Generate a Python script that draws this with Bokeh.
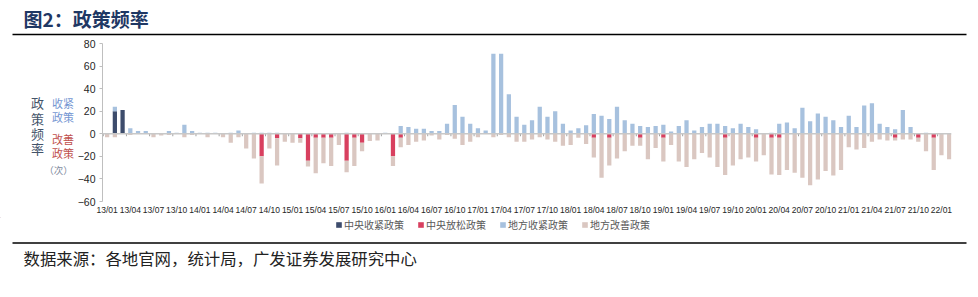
from bokeh.plotting import figure
from bokeh.models import (Label, Span, FixedTicker, Legend, LegendItem, Range1d)
from bokeh.layouts import column, row
from bokeh.embed import file_html
from bokeh.resources import INLINE

# ---------------- data ----------------
tick_labels = ["13/01", "13/04", "13/07", "13/10", "14/01", "14/04", "14/07", "14/10",
               "15/01", "15/04", "15/07", "15/10", "16/01", "16/04", "16/07", "16/10",
               "17/01", "17/04", "17/07", "17/10", "18/01", "18/04", "18/07", "18/10",
               "19/01", "19/04", "19/07", "19/10", "20/01", "20/04", "20/07", "20/10",
               "21/01", "21/04", "21/07", "21/10", "22/01"]

central_tight = [0, 20, 21, 0, 0, 0, 0, 0, 0, 0] + [0] * 100

central_ease = ([0] * 10 + [0] * 10 +
                [-20, 0, -4, 0, 0, -4, -24, -3.5, -3.5, -3.5] +
                [0, -24, -3.5, -8, 0, 0, 0, -20, -3.5, 0] +
                [0] * 10 + [0] * 10 +
                [0, 0, 0, -3.5, 0, -3.5, 0, 0, 0, -3.5] +
                [0, 0, -3.5, 0, 0, 0, 0, 0, 0, 0] +
                [-3.5, 0, 0, 0, -3.5, 0, -3.5, -3.5, 0, 0] +
                [0] * 10 +
                [0, 0, -3.5, 0, 0, -3.5, 0, -3.5, 0, 0])

local_tight = [0, 4, 0, 5, 2.5, 2.5, 0, 0, 2.5, 1,
               8, 2.5, 1, 1, 1, 0, 1, 3, 0, 1,
               1, 1, 1, 0, 0, 0, 0, 0, 0, 0,
               0, 1, 0, 0, 0, 0, 1, 0, 7, 6,
               4.5, 4.5, 2.5, 2.5, 9, 25.5, 15, 9, 5, 3,
               71, 71, 35, 15, 8, 12, 24, 15, 20, 9,
               3, 5, 7.5, 17.5, 16, 13, 24, 12, 9, 7,
               6, 7, 8, 2, 7, 12, 3, 6, 9, 9,
               7, 5, 9, 6, 4, 0, 1, 9, 10, 5,
               23, 11, 18, 15, 12, 6, 16, 6, 25, 27,
               9, 6, 4, 21, 6, 0, 1, 0, 0, 0]

local_ease = [-3, -3, 0, -1, 0, 0, -3, -1.5, -1, 0,
              -3, -1, 0, -3, 0, -3, -8, -3, -13, -22,
              -24, -13, -24, -7, -8, -4, -5, -31.5, -22.5, -25,
              -10, -10, -25, -7.5, -6.5, -6, 0, -8.5, -8.5, -10,
              -7, -6, -1.5, -5, -1, -4.5, -10, -7, -3, 0,
              -3, -1, -3, -7, -7, -5, -3, -5, -7, -10.5,
              -10, -3.5, -9, -17.5, -39, -24.5, -22, -15.5, -10.5, -7,
              -22.5, -12.5, -21, -10, -24.5, -29.5, -22.5, -17, -21, -29.5,
              -33, -28, -22.5, -21, -21, -19, -32.5, -33, -32, -34.5,
              -39, -45.5, -40.5, -33, -37, -32, -12, -14, -12.5, -7,
              -5, -6, -2.5, -5, -5, -3.5, -15.5, -28.5, -19, -22.5]

series_names = ["中央收紧政策", "中央放松政策", "地方收紧政策", "地方改善政策"]
y_ticks = [-60, -40, -20, 0, 20, 40, 60, 80]

# ---------------- styles ----------------
C_DARK = "#3D4C6C"
C_RED = "#D8405F"
C_BLUE = "#A7C1DE"
C_BEIGE = "#DAC7C1"
CJK = "Noto Sans CJK SC"
LAT = "Liberation Sans"

W, H = 978, 297
TOP_H = 38          # title strip height
FRAME_TOP, FRAME_BOT = 43, 203
MID_BOTTOM = 217    # where the chart strip ends
LEFT_W = 74         # width of the left annotation strip
MID_H = MID_BOTTOM - TOP_H


def deco_fig(w, h, y_top, y_bot):
    """Blank figure whose data coordinates equal page pixels."""
    f = figure(width=w, height=h, x_range=Range1d(0, w),
               y_range=Range1d(y_bot, y_top), output_backend="svg",
               toolbar_location=None, x_axis_location=None, y_axis_location=None,
               min_border=0, title=None)
    f.outline_line_color = None
    f.xgrid.visible = False
    f.ygrid.visible = False
    f.background_fill_color = "white"
    f.border_fill_color = "white"
    return f


def lab(f, x, y, text, size, color, font=CJK, align="left", style="normal"):
    f.add_layout(Label(x=x, y=y, text=text, text_font=font, text_font_size=size,
                       text_color=color, text_align=align, text_baseline="middle",
                       text_font_style=style))


# ---------------- title strip ----------------
top = deco_fig(W, TOP_H, 0, TOP_H)
lab(top, 23, 18, "图2：政策频率", "19px", "#1F3864", style="bold")
top.segment(x0=[12], x1=[966], y0=[34], y1=[34], line_color="black", line_width=1.6)

# ---------------- left annotation strip (frame is aligned with the chart frame) ----------------
left = deco_fig(LEFT_W, MID_H, FRAME_TOP, FRAME_BOT)
for k, ch in enumerate("政策频率"):
    lab(left, 37, 103 + 15.6 * k, ch, "13px", "#44546A", align="center")
lab(left, 62.5, 103, "收紧", "11px", "#7596D2", align="center")
lab(left, 62.5, 117, "政策", "11px", "#7596D2", align="center")
lab(left, 62.5, 140, "改善", "11px", "#C0504D", align="center")
lab(left, 62.5, 154, "政策", "11px", "#C0504D", align="center")
lab(left, 58, 171, "（次）", "9.5px", "#7F8CA0", align="center")

# ---------------- main chart ----------------
n = len(local_tight)
idx = list(range(n))
tick_pos = [3 * k for k in range(len(tick_labels))]

dark_top = central_tight
blue_top = [a + b for a, b in zip(central_tight, local_tight)]
red_bot = central_ease
beige_bot = [a + b for a, b in zip(central_ease, local_ease)]
zeros = [0] * n

p = figure(width=W - LEFT_W, height=MID_H, output_backend="svg", toolbar_location=None,
           x_range=Range1d(-0.6, 109.3), y_range=Range1d(-60, 80), title=None,
           min_border_left=96 - LEFT_W, min_border_right=27,
           min_border_top=FRAME_TOP - TOP_H, min_border_bottom=MID_BOTTOM - FRAME_BOT)
p.outline_line_color = None
p.xgrid.visible = False
p.ygrid.visible = False
p.background_fill_color = "white"
p.border_fill_color = "white"

bw = 0.55
r_dark = p.vbar(x=idx, bottom=zeros, top=dark_top, width=bw, fill_color=C_DARK, line_color=None)
r_blue = p.vbar(x=idx, bottom=dark_top, top=blue_top, width=bw, fill_color=C_BLUE, line_color=None)
r_red = p.vbar(x=idx, top=zeros, bottom=red_bot, width=bw, fill_color=C_RED, line_color=None)
r_beige = p.vbar(x=idx, top=red_bot, bottom=beige_bot, width=bw, fill_color=C_BEIGE, line_color=None)

p.add_layout(Span(location=0, dimension="width", line_color="#C8C8C8", line_width=1.5))
p.segment(x0=[t - 0.5 for t in tick_pos], x1=[t - 0.5 for t in tick_pos],
          y0=[0] * len(tick_pos), y1=[-2.2] * len(tick_pos), line_color="#A0A0A0", line_width=1)

ya = p.yaxis[0]
ya.ticker = FixedTicker(ticks=y_ticks)
ya.axis_line_color = "#BFBFBF"
ya.major_tick_line_color = "#BFBFBF"
ya.major_tick_out = 3
ya.major_tick_in = 0
ya.minor_tick_line_color = None
ya.major_label_text_font = LAT
ya.major_label_text_font_size = "10.5px"
ya.major_label_text_color = "#262626"
ya.major_label_standoff = 4

xa = p.xaxis[0]
xa.ticker = FixedTicker(ticks=tick_pos)
xa.major_label_overrides = {t: l for t, l in zip(tick_pos, tick_labels)}
xa.axis_line_color = None
xa.major_tick_line_color = None
xa.minor_tick_line_color = None
xa.major_tick_out = 0
xa.major_tick_in = 0
xa.major_label_text_font = LAT
xa.major_label_text_font_size = "8.5px"
xa.major_label_text_color = "#262626"
xa.major_label_standoff = 3

# ---------------- bottom strip: legend, rule, source ----------------
bot = deco_fig(W, H - MID_BOTTOM, MID_BOTTOM, H)
cols = [C_DARK, C_RED, C_BLUE, C_BEIGE]
# off-screen stand-ins so the legend can show the series colours
dummies = [bot.vbar(x=[-50], bottom=[-50], top=[-40], width=1, fill_color=c, line_color=None)
           for c in cols]
legend = Legend(items=[LegendItem(label=s, renderers=[r]) for s, r in zip(series_names, dummies)],
                orientation="horizontal", location=(335, H - 232),
                glyph_width=7, glyph_height=7, label_standoff=2, spacing=13,
                label_text_font=CJK, label_text_font_size="10px",
                label_text_color="#595959", label_height=10, padding=0, margin=0,
                border_line_color=None, background_fill_alpha=0)
bot.add_layout(legend, "center")
bot.segment(x0=[12], x1=[966], y0=[242.5], y1=[242.5], line_color="black", line_width=1.6)
lab(bot, 23, 257, "数据来源：各地官网，统计局，广发证券发展研究中心", "16.4px", "#222222")

layout = column(top, row(left, p), bot, spacing=0)
open("out.html", "w").write(file_html(layout, INLINE))
